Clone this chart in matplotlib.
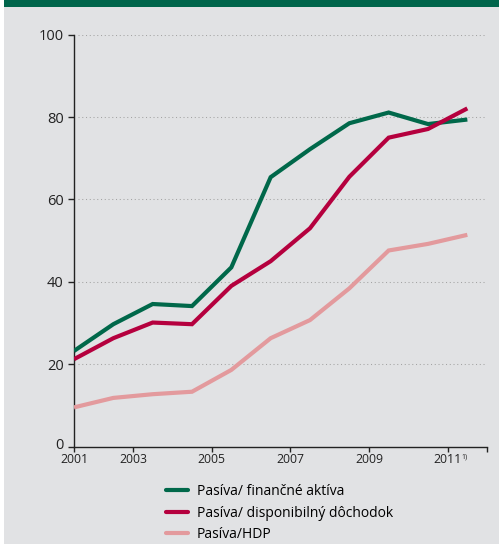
import matplotlib
matplotlib.use("Agg")
import matplotlib.pyplot as plt
import matplotlib.transforms as mtransforms
from matplotlib.patches import Rectangle
from matplotlib.lines import Line2D

plt.rcParams['font.family'] = ['Open Sans', 'DejaVu Sans']

# Annual observations, 2001-2011
years = [2001, 2002, 2003, 2004, 2005, 2006, 2007, 2008, 2009, 2010, 2011]
liab_to_fin_assets = [23.2, 29.7, 34.6, 34.1, 43.5, 65.4, 72.2, 78.5, 81.1, 78.3, 79.4]
liab_to_disp_income = [21.2, 26.3, 30.1, 29.7, 39.0, 45.0, 53.0, 65.5, 75.0, 77.1, 82.1]
liab_to_gdp = [9.5, 11.8, 12.7, 13.3, 18.6, 26.3, 30.7, 38.4, 47.6, 49.2, 51.4]

series_labels = ["Pasíva/ finančné aktíva",
                 "Pasíva/ disponibilný dôchodok",
                 "Pasíva/HDP"]
series_colors = ["#00684a", "#b5003e", "#e39a9d"]

x_tick_pos = [2001, 2002.5, 2004.5, 2006.5, 2008.5, 2010.5, 2011.5]
x_tick_labels = ["2001", "2003", "2005", "2007", "2009", "2011", ""]
y_ticks = [0, 20, 40, 60, 80, 100]

W, H = 503, 544
fig = plt.figure(figsize=(W / 100, H / 100), dpi=100)
fig.patch.set_facecolor("white")

# panel background and header band
fig.add_artist(Rectangle((4 / W, 0), (499 - 4) / W, 1, transform=fig.transFigure,
                         facecolor="#e1e2e4", edgecolor="none", zorder=0))
fig.add_artist(Rectangle((4 / W, 1 - 7 / H), (499 - 4) / W, 7 / H, transform=fig.transFigure,
                         facecolor="#00654b", edgecolor="none", zorder=1))

ax = fig.add_axes([74 / W, 1 - 446.5 / H, (487 - 74) / W, (446.5 - 34.7) / H])
ax.set_facecolor("none")

for vals, lab, col in zip([liab_to_fin_assets, liab_to_disp_income, liab_to_gdp],
                          series_labels, series_colors):
    ax.plot(years, vals, color=col, lw=3.0, label=lab, solid_joinstyle="miter",
            solid_capstyle="butt", zorder=3)

ax.set_xlim(2001, 2011.5)
ax.set_ylim(0, 100)

for yv in y_ticks[1:]:
    ax.axhline(yv, xmin=0.01, xmax=1.0, color="#a3a3a3", lw=0.75,
               ls=(0, (1, 2.6)), zorder=1)

for s in ["top", "right"]:
    ax.spines[s].set_visible(False)
for s in ["left", "bottom"]:
    ax.spines[s].set_color("#222222")
    ax.spines[s].set_linewidth(1.0)

ax.set_yticks(y_ticks)
ax.set_yticklabels([str(v) for v in y_ticks], fontsize=10.5, color="#222222")
ax.tick_params(axis="y", direction="out", length=4.3, width=1.0, pad=3, color="#222222")
ax.set_xticks(x_tick_pos)
ax.set_xticklabels(x_tick_labels, fontsize=8.8, color="#222222")
ax.tick_params(axis="x", direction="out", length=3.6, width=1.0, pad=0.8, color="#222222")

# lift the zero label a little so it clears the first year label
zero_lbl = ax.get_yticklabels()[0]
zero_lbl.set_transform(zero_lbl.get_transform() +
                       mtransforms.ScaledTranslation(0, 2.5 / 72, fig.dpi_scale_trans))

# footnote marker next to the last year label
ax.annotate("1)", xy=(2010.5, 0), xycoords=("data", "axes fraction"),
            xytext=(10.2, -7.4), textcoords="offset points", fontsize=5,
            color="#222222", ha="left", va="center")

handles = [Line2D([], [], color=c, lw=3.0, solid_capstyle="round") for c in series_colors]
fig.legend(handles, series_labels, loc="upper left",
           bbox_to_anchor=(166 / W, 1 - 484 / H), frameon=False, fontsize=10,
           handlelength=1.6, handletextpad=0.6, labelspacing=0.48, borderpad=0,
           borderaxespad=0)

fig.savefig("out.png", dpi=100, facecolor=fig.get_facecolor())
